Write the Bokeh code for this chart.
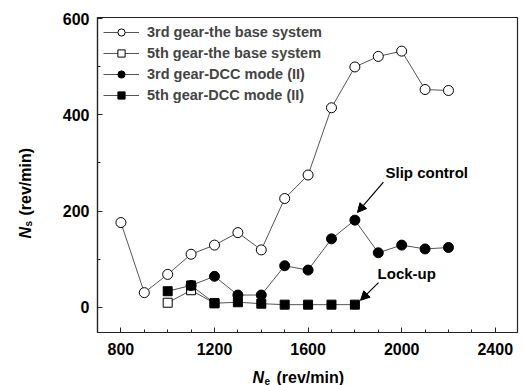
from math import pi

from bokeh.embed import file_html
from bokeh.layouts import column, row
from bokeh.models import (Arrow, NormalHead, Label, Legend, LegendItem,
                          Range1d, FixedTicker)
from bokeh.plotting import figure
from bokeh.resources import INLINE

# Engine speed (rev/min) and slip speed (rev/min) for each configuration
gear3_base_x = [800, 900, 1000, 1100, 1200, 1300, 1400, 1500, 1600, 1700, 1800, 1900, 2000, 2100, 2200]
gear3_base_y = [176, 30, 68, 110, 129, 155, 119, 226, 275, 415, 500, 522, 533, 453, 451]

gear5_base_x = [1000, 1100, 1200]
gear5_base_y = [9, 35, 8]

gear3_dcc_x = [1100, 1200, 1300, 1400, 1500, 1600, 1700, 1800, 1900, 2000, 2100, 2200]
gear3_dcc_y = [45, 64, 25, 25, 86, 77, 142, 181, 113, 129, 121, 124]

gear5_dcc_x = [1000, 1100, 1200, 1300, 1400, 1500, 1600, 1700, 1800]
gear5_dcc_y = [33, 45, 8, 10, 7, 5, 5, 5, 5]

series_labels = ["3rd gear-the base system", "5th gear-the base system",
                 "3rd gear-DCC mode (II)", "5th gear-DCC mode (II)"]

x_ticks = [800, 1200, 1600, 2000, 2400]
y_ticks = [0, 200, 400, 600]

FONT = "Liberation Sans"
LINE = "#555555"

# ---- main chart ----
p = figure(width=484, height=362, output_backend="svg", toolbar_location=None,
           x_range=Range1d(700, 2495), y_range=Range1d(-53, 603),
           min_border_left=57, min_border_right=7, min_border_top=17,
           min_border_bottom=30)

p.grid.visible = False
p.outline_line_color = "#222222"
p.outline_line_width = 1.2
p.background_fill_color = "white"
p.border_fill_color = "white"

for ax in (p.xaxis[0], p.yaxis[0]):
    ax.major_tick_in = 5
    ax.major_tick_out = 0
    ax.minor_tick_in = 3
    ax.minor_tick_out = 0
    ax.axis_line_color = "#222222"
    ax.axis_line_width = 1.2
    ax.major_tick_line_color = "#222222"
    ax.minor_tick_line_color = "#222222"
    ax.major_label_text_font = FONT
    ax.major_label_text_font_style = "bold"
    ax.major_label_text_font_size = "16px"
    ax.major_label_text_color = "black"

p.xaxis[0].ticker = FixedTicker(ticks=x_ticks, minor_ticks=list(range(700, 2500, 100)))
p.yaxis[0].ticker = FixedTicker(ticks=y_ticks, minor_ticks=list(range(-100, 700, 100)))
p.xaxis[0].major_label_standoff = 10
p.yaxis[0].major_label_standoff = 8

# Series
r1l = p.line(gear3_base_x, gear3_base_y, line_color=LINE, line_width=1)
r2l = p.line(gear5_base_x, gear5_base_y, line_color=LINE, line_width=1)
r3l = p.line(gear3_dcc_x, gear3_dcc_y, line_color=LINE, line_width=1)
r4l = p.line(gear5_dcc_x, gear5_dcc_y, line_color=LINE, line_width=1)

r1m = p.scatter(gear3_base_x, gear3_base_y, marker="circle", size=10,
                fill_color="white", line_color="black", line_width=1)
r2m = p.scatter(gear5_base_x, gear5_base_y, marker="square", size=9,
                fill_color="white", line_color="black", line_width=1)
r3m = p.scatter(gear3_dcc_x, gear3_dcc_y, marker="circle", size=10,
                fill_color="black", line_color="black")
r4m = p.scatter(gear5_dcc_x, gear5_dcc_y, marker="square", size=9,
                fill_color="black", line_color="black")

legend = Legend(items=[
    LegendItem(label=series_labels[0], renderers=[r1l, r1m]),
    LegendItem(label=series_labels[1], renderers=[r2l, r2m]),
    LegendItem(label=series_labels[2], renderers=[r3l, r3m]),
    LegendItem(label=series_labels[3], renderers=[r4l, r4m]),
], location="top_left")
legend.margin = 1
legend.padding = 5
legend.spacing = 3
legend.glyph_width = 36
legend.glyph_height = 18
legend.label_height = 18
legend.label_standoff = 8
legend.label_text_font = FONT
legend.label_text_font_style = "bold"
legend.label_text_font_size = "14.5px"
legend.background_fill_alpha = 0
legend.border_line_alpha = 0
p.add_layout(legend)

# Callouts
ann_style = dict(text_font=FONT, text_font_style="bold", text_font_size="15px",
                 text_color="black", text_baseline="middle", text_align="left")
p.add_layout(Label(x=1931, y=281, text="Slip control", **ann_style))
p.add_layout(Label(x=1897, y=70, text="Lock-up", **ann_style))
p.add_layout(Arrow(x_start=1922, y_start=260, x_end=1811, y_end=197,
                   line_color="black", line_width=1.2,
                   end=NormalHead(size=9, fill_color="black", line_color="black")))
p.add_layout(Arrow(x_start=1901, y_start=51, x_end=1824, y_end=14,
                   line_color="black", line_width=1.2,
                   end=NormalHead(size=9, fill_color="black", line_color="black")))

# ---- axis titles (italic symbol with subscript) in their own strips ----
main = dict(text_font=FONT, text_font_style="bold", text_font_size="16px",
            text_color="black", x_units="screen", y_units="screen",
            text_baseline="alphabetic", text_align="left")
sym = dict(main, text_font_style="bold italic")
sub = dict(main, text_font_size="10px")


def strip(width, height):
    f = figure(width=width, height=height, output_backend="svg", title=None,
               toolbar_location=None, x_axis_type=None, y_axis_type=None,
               min_border=0, x_range=Range1d(0, 1), y_range=Range1d(0, 1))
    f.outline_line_color = None
    f.grid.visible = False
    f.background_fill_color = "white"
    f.border_fill_color = "white"
    return f


# strip under the chart; its frame lines up with the chart frame (left edge)
xlab = strip(484, 23)
xlab.add_layout(Label(x=155, y=8, text="N", **sym))
xlab.add_layout(Label(x=167, y=5, text="e", **sub))
xlab.add_layout(Label(x=179, y=8, text="(rev/min)", **main))

ylab = strip(40, 385)
ylab.add_layout(Label(x=25, y=147, text="N", angle=pi / 2, **sym))
ylab.add_layout(Label(x=28, y=159, text="s", angle=pi / 2, **sub))
ylab.add_layout(Label(x=25, y=170, text="(rev/min)", angle=pi / 2, **main))

layout = row(ylab, column(p, xlab, spacing=0), spacing=0)

open("out.html", "w").write(file_html(layout, INLINE))
